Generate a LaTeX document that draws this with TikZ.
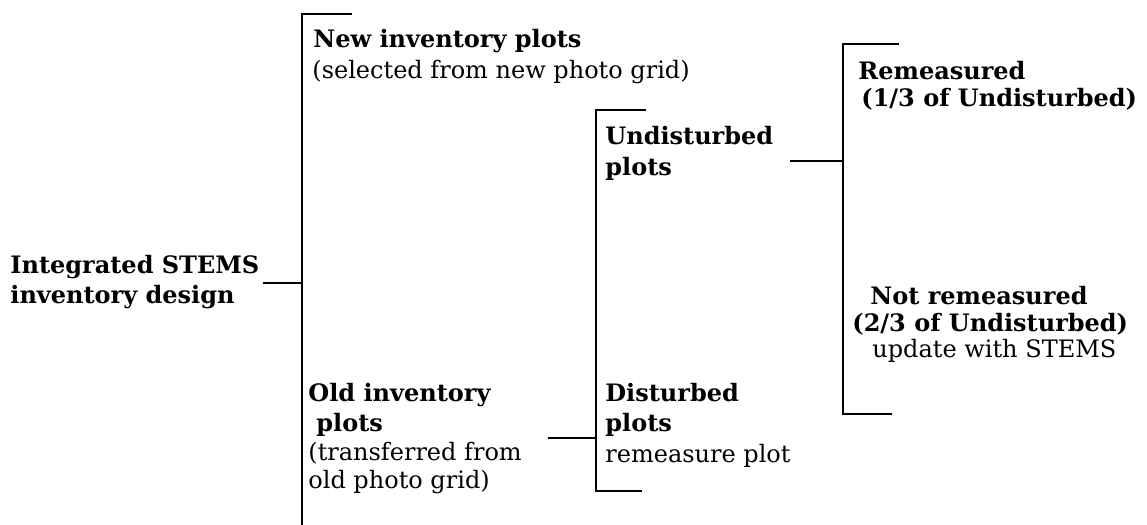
\documentclass[tikz,border=0pt]{standalone}
\usepackage{fontspec}
\setmainfont{DejaVu Serif}
\usetikzlibrary{positioning}
\tikzset{
  txt/.style={anchor=base west, inner sep=0pt, font=\fontsize{12}{15}\selectfont},
  head/.style={txt, font=\fontsize{12}{15}\selectfont\bfseries},
  brk/.style={line width=0.6pt},
}

\begin{document}
\begin{tikzpicture}[x=0.5pt,y=-0.5pt]
            \useasboundingbox (0,0) rectangle (1147,525);
            % root
            \node[head] (root) at (10,273) {Integrated STEMS};
            \node[head] (rootb) at (10,303) {inventory design};
            % first split
            \coordinate (b1top) at (302,14);
            \coordinate (b1bot) at (302,525);
            \coordinate (b1mid) at (302,283);
            \draw[brk] (352,14) -- (b1top) -- (b1bot);
            \draw[brk] (root.east |- b1mid) ++(3,0) -- (b1mid);
            \node[head] (new) at (313,47) {New inventory plots};
            \node[txt] (newb) at (312,78) {(selected from new photo grid)};
            \node[head] (old) at (308,401) {Old inventory};
            \node[head] (oldb) at (316,431) {plots};
            \node[txt] (oldc) at (308,460) {(transferred from};
            \node[txt] (oldd) at (308,488) {old photo grid)};
            % second split
            \coordinate (b2top) at (596,110);
            \coordinate (b2bot) at (596,491);
            \coordinate (b2mid) at (596,438);
            \coordinate (b2in) at (548,438);
            \draw[brk] (646,110) -- (b2top) -- (b2bot) -- (642,491);
            \draw[brk] (b2in) -- (b2mid);
            \node[head] (und) at (605,144) {Undisturbed};
            \node[head] (undb) at (605,175) {plots};
            \node[head] (dis) at (605,401) {Disturbed};
            \node[head] (disb) at (605,431) {plots};
            \node[txt] (disc) at (605,462) {remeasure plot};
            % third split
            \coordinate (b3top) at (843,44);
            \coordinate (b3bot) at (843,414);
            \coordinate (b3mid) at (843,161);
            \coordinate (b3in) at (790,161);
            \draw[brk] (899,44) -- (b3top) -- (b3bot) -- (892,414);
            \draw[brk] (b3in) -- (b3mid);
            \node[head] (rem) at (858,79) {Remeasured};
            \node[head] (remb) at (861,106) {(1/3 of Undisturbed)};
            \node[head] (not) at (870,304) {Not remeasured};
            \node[head] (notb) at (852,331) {(2/3 of Undisturbed)};
            \node[txt] (notc) at (872,357) {update with STEMS};
        \end{tikzpicture}
\end{document}
